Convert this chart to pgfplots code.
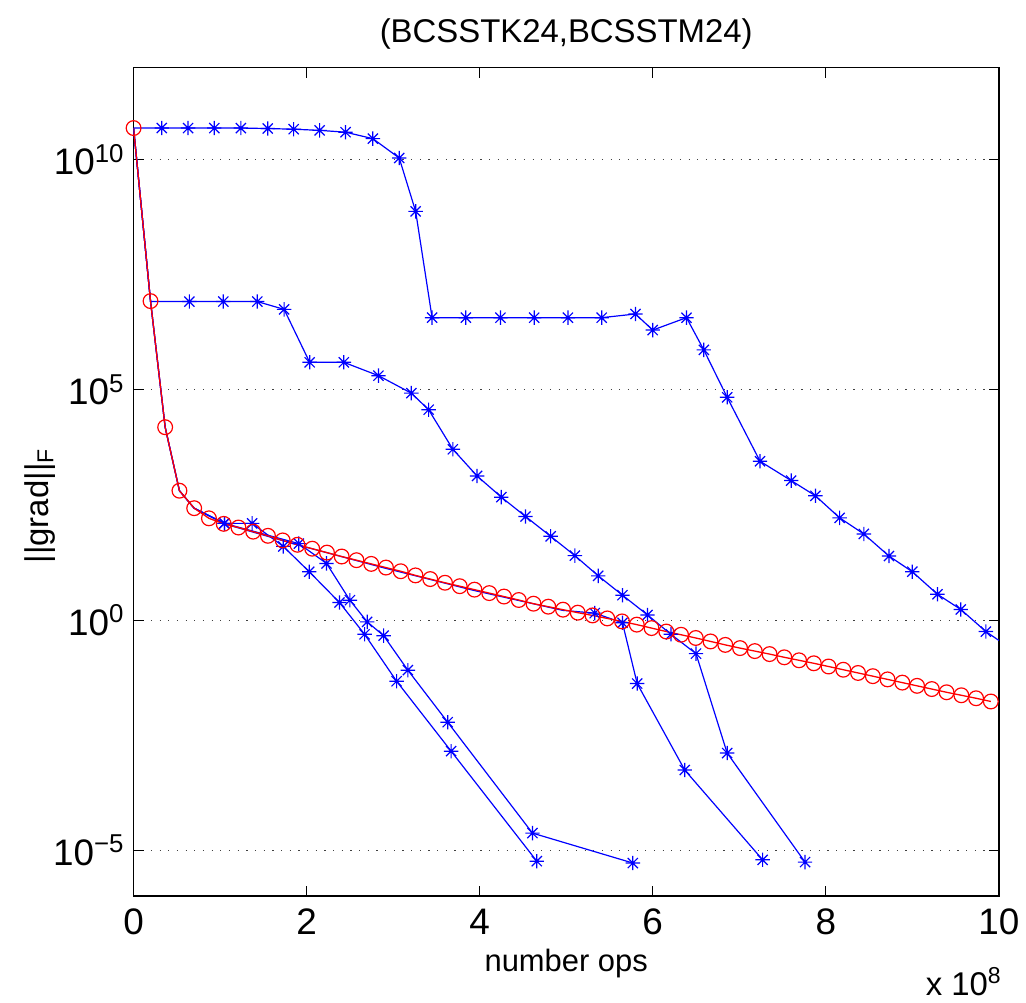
\documentclass[border=0pt]{standalone}
\usepackage{pgfplots}
\pgfplotsset{compat=1.18}
\usepackage{fontspec}
\setmainfont{Liberation Sans}
\pgfdeclareplotmark{mstar}{%
  \pgfpathmoveto{\pgfqpoint{0pt}{\pgfplotmarksize}}\pgfpathlineto{\pgfqpoint{0pt}{-\pgfplotmarksize}}%
  \pgfpathmoveto{\pgfqpoint{\pgfplotmarksize}{0pt}}\pgfpathlineto{\pgfqpoint{-\pgfplotmarksize}{0pt}}%
  \pgfpathmoveto{\pgfqpoint{0.707\pgfplotmarksize}{0.707\pgfplotmarksize}}\pgfpathlineto{\pgfqpoint{-0.707\pgfplotmarksize}{-0.707\pgfplotmarksize}}%
  \pgfpathmoveto{\pgfqpoint{0.707\pgfplotmarksize}{-0.707\pgfplotmarksize}}\pgfpathlineto{\pgfqpoint{-0.707\pgfplotmarksize}{0.707\pgfplotmarksize}}%
  \pgfusepathqstroke}
\definecolor{mblue}{rgb}{0,0,1}
\definecolor{mred}{rgb}{1,0,0}

% red series (log10 of ||grad||_F)
\pgfplotstableread{
x y
0 10.69
0.196 6.93
0.365 4.19
0.530 2.81
0.7005 2.43
0.871 2.21
1.0415 2.09
1.212 2.01
1.3825 1.92
1.553 1.83
1.7235 1.73
1.894 1.635
2.0645 1.55
2.235 1.465
2.4055 1.38
2.576 1.30
2.7465 1.22
2.917 1.14
3.0875 1.06
3.258 0.97
3.4285 0.89
3.599 0.81
3.7695 0.735
3.940 0.66
4.1105 0.585
4.281 0.51
4.4515 0.435
4.622 0.355
4.7925 0.29
4.963 0.225
5.1335 0.16
5.304 0.10
5.4745 0.035
5.645 -0.03
5.8155 -0.10
5.986 -0.175
6.1565 -0.25
6.327 -0.32
6.4975 -0.39
6.668 -0.465
6.8385 -0.54
7.009 -0.61
7.1795 -0.675
7.350 -0.74
7.5205 -0.81
7.691 -0.875
7.8615 -0.94
8.032 -1.01
8.2025 -1.08
8.373 -1.15
8.5435 -1.22
8.714 -1.29
8.8845 -1.36
9.055 -1.43
9.2255 -1.50
9.396 -1.57
9.5665 -1.635
9.737 -1.70
9.9075 -1.77
}\redtab

\pgfplotstableread{
x y
0 10.69
0.326 10.69
0.63 10.69
0.933 10.69
1.24 10.69
1.55 10.68
1.85 10.665
2.15 10.64
2.45 10.60
2.765 10.46
3.07 10.04
3.26 8.88
3.45 6.57
3.84 6.57
4.24 6.57
4.63 6.57
5.02 6.57
5.41 6.57
5.80 6.65
6.00 6.30
6.39 6.57
6.59 5.87
6.86 4.84
7.24 3.45
7.60 3.03
7.88 2.70
8.16 2.22
8.44 1.87
8.73 1.39
9.00 1.05
9.29 0.56
9.56 0.23
9.85 -0.25
10.13 -0.61
}\Atab

\pgfplotstableread{
x y
0 10.69
0.196 6.92
0.645 6.92
1.037 6.92
1.43 6.92
1.74 6.75
2.035 5.60
2.43 5.60
2.83 5.31
3.21 4.93
3.41 4.57
3.69 3.71
3.97 3.13
4.25 2.67
4.53 2.25
4.82 1.82
5.10 1.40
5.37 0.96
5.65 0.54
5.94 0.11
6.21 -0.31
6.50 -0.73
6.86 -2.89
7.76 -5.26
}\Btab

\pgfplotstableread{
x y
0 10.69
0.196 6.93
0.365 4.19
0.53 2.81
0.70 2.43
1.05 2.10
1.37 2.10
1.73 1.60
2.03 1.05
2.38 0.38
2.67 -0.31
3.04 -1.33
3.67 -2.85
4.66 -5.24
}\Ctab

\pgfplotstableread{
x y
0 10.69
0.196 6.93
0.365 4.19
0.53 2.81
0.70 2.43
1.05 2.10
1.91 1.66
2.23 1.23
2.50 0.43
2.70 -0.04
2.89 -0.34
3.17 -1.09
3.63 -2.22
4.61 -4.63
5.77 -5.28
}\Dtab

\pgfplotstableread{
x y
0 10.69
0.196 6.93
0.365 4.19
0.53 2.81
0.70 2.43
1.05 2.09
1.90 1.63
2.92 1.12
3.94 0.64
4.96 0.21
5.33 0.15
5.65 -0.06
5.82 -1.38
6.37 -3.26
7.27 -5.21
}\Etab

\begin{document}
\begin{tikzpicture}
\begin{axis}[
  width=434pt, height=415.5pt, scale only axis,
  xmin=0, xmax=10, ymin=-6, ymax=12,
  xtick={0,2,4,6,8,10},
  ytick={-5,0,5,10},
  yticklabels={10\textsuperscript{−5},10\textsuperscript{0},10\textsuperscript{5},10\textsuperscript{10}},
  /pgf/number format/assume math mode=true,
  ymajorgrids,
  major grid style={black!75, line width=0.5pt, dash pattern=on 0.6pt off 3.75pt},
  tick align=inside, major tick length=5pt,
  every tick/.style={black, line width=0.5pt},
  axis line style={black, line width=0.7pt},
  tick label style={font=\fontsize{18.5}{18.5}\selectfont},
  xticklabel style={yshift=-3pt},
  yticklabel style={xshift=-1pt},
  clip=true,
  bstyle/.style={mblue, line width=0.6pt, mark=mstar, mark size=3.6pt, mark options={line width=0.6pt}},
]
\addplot[bstyle, mark phase=2, mark repeat=1] table {\Atab};
\addplot[bstyle, mark phase=3, mark repeat=1] table {\Btab};
\addplot[bstyle, mark phase=6, mark repeat=1] table {\Ctab};
\addplot[bstyle, mark phase=6, mark repeat=1] table {\Dtab};
\addplot[bstyle, mark phase=11, mark repeat=1] table {\Etab};
\addplot[mred, line width=0.65pt, mark=o, mark size=3.7pt, mark options={line width=0.6pt}] table {\redtab};
\end{axis}
\node[font=\fontsize{16.5}{16.5}\selectfont] at ([yshift=17pt]current axis.north) {(BCSSTK24,BCSSTM24)};
\node[font=\fontsize{15.5}{15.5}\selectfont] at ([yshift=-34pt]current axis.south) {number ops};
\node[font=\fontsize{16.5}{16.5}\selectfont, anchor=base east] at ([xshift=5pt,yshift=-50pt]current axis.south east) {x 10\textsuperscript{8}};
\node[font=\fontsize{16.5}{16.5}\selectfont, rotate=90] at ([xshift=-47pt,yshift=-12pt]current axis.west) {||grad||\textsubscript{F}};
\path ([shift={(-67pt,-52pt)}]current axis.south west) rectangle ([shift={(12pt,34pt)}]current axis.north east);
\end{tikzpicture}
\end{document}
